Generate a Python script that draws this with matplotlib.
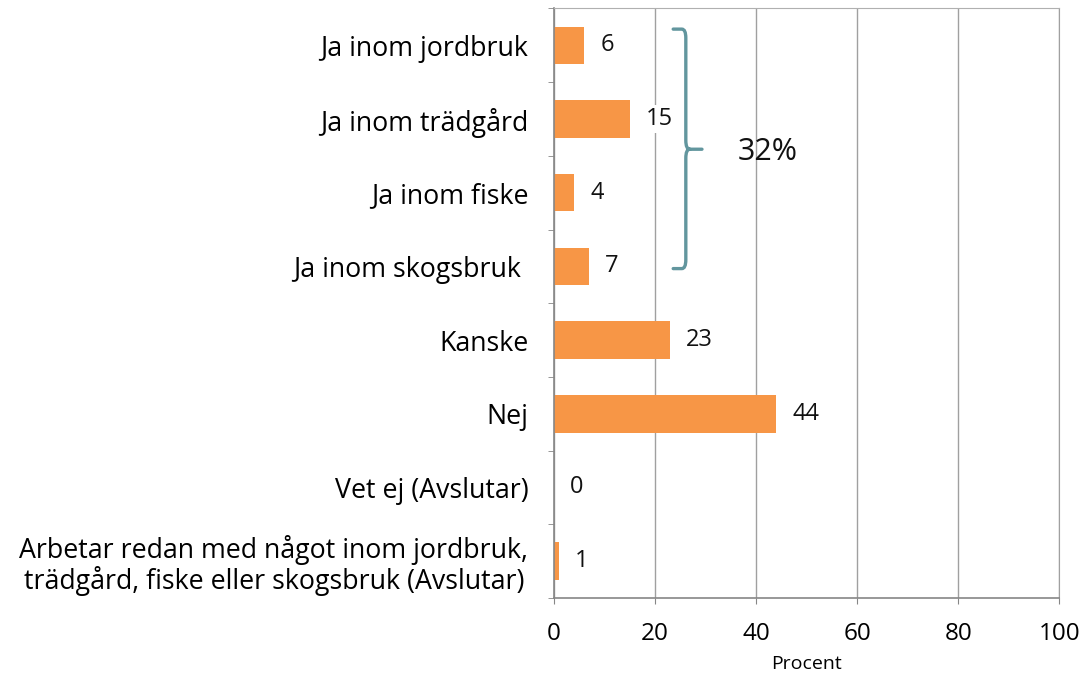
import numpy as np
import matplotlib
matplotlib.use("Agg")
import matplotlib.pyplot as plt
from matplotlib.path import Path
from matplotlib.patches import PathPatch

categories = ["Ja inom jordbruk", "Ja inom trädgård", "Ja inom fiske", "Ja inom skogsbruk ",
              "Kanske", "Nej", "Vet ej (Avslutar)",
              "Arbetar redan med något inom jordbruk,\nträdgård, fiske eller skogsbruk (Avslutar)"]
values = [6, 15, 4, 7, 23, 44, 0, 1]
xticks = [0, 20, 40, 60, 80, 100]
brace_text = "32%"

plt.rcParams['font.family'] = ['Open Sans', 'DejaVu Sans']

fig = plt.figure(figsize=(10.83, 6.74), dpi=100)
ax = fig.add_axes([0.5115, 0.1128, 0.4665, 0.8746])

y = np.arange(len(categories))
ax.barh(y, values, height=0.51, color='#F79646', zorder=2)

for yi, v in zip(y, values):
    ax.annotate(str(v), (v, yi), xytext=(16, 0), textcoords='offset pixels',
                va='center', ha='left', fontsize=17, color='#111111', zorder=4,
                bbox=dict(boxstyle='square,pad=0.1', fc='white', ec='none'))

ax.set_xlim(0, 100)
ax.set_ylim(len(categories) - 0.5, -0.5)
ax.set_xticks(xticks)
ax.set_xticklabels([str(t) for t in xticks], fontsize=17.5)
ax.set_yticks(y)
ax.set_yticklabels(categories, fontsize=19.3, ha='right', multialignment='center',
                   linespacing=1.05)
ax.set_yticks(np.arange(len(categories) + 1) - 0.5, minor=True)
ax.tick_params(axis='y', which='major', length=0, pad=18.5)
ax.tick_params(axis='y', which='minor', length=4.5, color='#868686', direction='out')
ax.tick_params(axis='x', length=4.5, color='#868686', pad=12.5)
ax.set_xlabel("Procent", fontsize=14, labelpad=7)

ax.grid(axis='x', color='#a0a0a0', linewidth=1.0, zorder=0)
ax.set_axisbelow(True)
for side in ['left', 'bottom']:
    ax.spines[side].set_color('#868686')
    ax.spines[side].set_linewidth(1.2)
ax.spines['top'].set_color('#b0b0b0')
ax.spines['right'].set_color('#a0a0a0')

# curly brace over the four "Ja" rows
x0, x1, xt = 23.6, 26.1, 29.3
yt, ym, yb = -0.22, 1.41, 3.03
r = 0.12
verts = [(x0, yt), (x1 - 0.8, yt), (x1, yt), (x1, yt + r),
         (x1, ym - r), (x1, ym), (x1 + 0.8, ym), (xt, ym),
         (x1 + 0.8, ym), (x1, ym), (x1, ym + r),
         (x1, yb - r), (x1, yb), (x1 - 0.8, yb), (x0, yb)]
codes = [Path.MOVETO, Path.LINETO, Path.CURVE3, Path.CURVE3,
         Path.LINETO, Path.CURVE3, Path.CURVE3, Path.LINETO,
         Path.MOVETO, Path.CURVE3, Path.CURVE3,
         Path.LINETO, Path.CURVE3, Path.CURVE3, Path.LINETO]
ax.add_patch(PathPatch(Path(verts, codes), fill=False, edgecolor='#62969E',
                       linewidth=2.4, capstyle='round', zorder=3))
ax.text(42.4, 1.45, brace_text, fontsize=22, ha='center', va='center', color='#111111', zorder=3)

fig.savefig("out.png", dpi=100)
